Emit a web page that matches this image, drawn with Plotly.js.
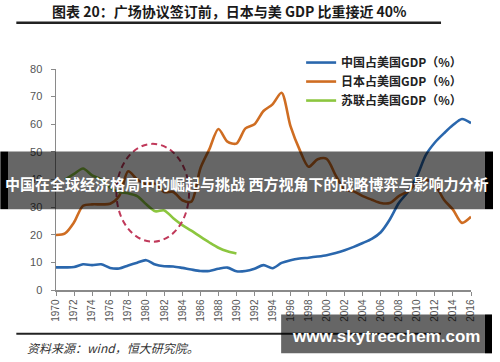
<!DOCTYPE html>
<html>
<head>
<meta charset="utf-8">
<script src="https://cdn.plot.ly/plotly-3.0.1.min.js"></script>
<style>html,body{margin:0;padding:0;background:#fff;}#chart{width:500px;height:362px;}</style>
</head>
<body>
<div id="chart"></div>
<script>
var years = [1970,1971,1972,1973,1974,1975,1976,1977,1978,1979,1980,1981,1982,1983,1984,1985,1986,1987,1988,1989,1990,1991,1992,1993,1994,1995,1996,1997,1998,1999,2000,2001,2002,2003,2004,2005,2006,2007,2008,2009,2010,2011,2012,2013,2014,2015,2016];
var chinaPct = [8.2,8.2,8.3,9.3,9.0,9.3,8.0,7.8,8.9,9.9,10.8,9.2,8.6,8.5,8.0,7.4,6.9,6.9,7.7,8.1,6.8,6.9,7.7,9.0,7.9,9.8,10.8,11.4,11.7,12.1,12.6,13.4,14.4,15.6,17.0,18.5,20.9,25.5,31.5,35.5,41.1,48.9,53.4,56.7,59.7,61.9,60.4];
var japanPct = [19.9,20.5,24.5,30.5,31,31,31.2,34,43,40,38.3,38.5,35.5,35.5,32.5,32,44,51,58.3,53.7,53,58.5,60,64.8,67.2,71.4,59.2,50.8,44.6,47.3,47.5,41.5,36.3,35.7,34,32.7,31.5,31.5,34,35.7,38.7,39.9,38.1,32.7,29.1,24.3,26.5];
var ussrYears = [1971,1972,1973,1974,1975,1976,1977,1978,1979,1980,1981,1982,1983,1984,1985,1986,1987,1988,1989,1990];
var ussrPct = [40,42,44,41.5,40,37,35.5,35,34,31,28.5,28.8,26,23.5,21.5,19.3,17.2,15.3,14,13.2];
var seriesNames = ['中国占美国GDP（%）','日本占美国GDP（%）','苏联占美国GDP（%）'];
var xTicks = [1970,1972,1974,1976,1978,1980,1982,1984,1986,1988,1990,1992,1994,1996,1998,2000,2002,2004,2006,2008,2010,2012,2014,2016];
var yTicks = [0,10,20,30,40,50,60,70,80];
var titleText = '图表 20：广场协议签订前，日本与美 GDP 比重接近 40%';
var sourceText = '资料来源：wind，恒大研究院。';
var bandText = '中国在全球经济格局中的崛起与挑战 西方视角下的战略博弈与影响力分析';
var siteText = 'www.skytreechem.com';

var W = 500, H = 362;
var L = 55.7, R = 29, T = 69, B = 71.5;
var pw = W - L - R, ph = H - T - B;
function px(x){ return (x - L) / pw; }
function py(y){ return (H - B - y) / ph; }

var cjk = '"Noto Sans CJK SC", "Noto Sans", sans-serif';
var traces = [
  {x: years, y: chinaPct, name: seriesNames[0], type: 'scatter', mode: 'lines',
   line: {color: '#2a67ad', width: 2.6, shape: 'spline', smoothing: 0.8}},
  {x: years, y: japanPct, name: seriesNames[1], type: 'scatter', mode: 'lines',
   line: {color: '#cf6d22', width: 2.6, shape: 'spline', smoothing: 0.8}},
  {x: ussrYears, y: ussrPct, name: seriesNames[2], type: 'scatter', mode: 'lines',
   line: {color: '#8cc63f', width: 2.6, shape: 'spline', smoothing: 0.8}}
];

var layout = {
  width: W, height: H,
  margin: {l: L, r: R, t: T, b: B, pad: 0},
  paper_bgcolor: '#fff', plot_bgcolor: '#fff',
  showlegend: true,
  legend: {x: px(301), xanchor: 'left', y: py(48), yanchor: 'top',
    bgcolor: 'rgba(0,0,0,0)', borderwidth: 0, tracegroupgap: 0,
    font: {family: cjk, size: 12, color: '#222', weight: 'bold'}},
  xaxis: {range: [1970, 2016], tickvals: xTicks, ticktext: xTicks.map(String), tickangle: -90,
    showgrid: false, zeroline: false, showline: true, linecolor: '#8a8a8a', linewidth: 1.5,
    ticks: 'outside', ticklen: 4, tickcolor: '#8a8a8a', tickwidth: 1,
    tickfont: {family: 'Liberation Sans, Arial, sans-serif', size: 10, color: '#555'}},
  yaxis: {range: [0, 80], tickvals: yTicks, showgrid: false, zeroline: false,
    showline: true, linecolor: '#8a8a8a', linewidth: 1.5,
    ticks: 'outside', ticklen: 4, tickcolor: '#8a8a8a', tickwidth: 1, ticklabelstandoff: 6,
    tickfont: {family: 'Liberation Sans, Arial, sans-serif', size: 11, color: '#555'}},
  shapes: [
    {type: 'circle', xref: 'x', yref: 'y', x0: 1976.7, x1: 1984.75, y0: 17.5, y1: 52.9,
     line: {color: '#c0395a', width: 2, dash: '6px,4px'}},
    {type: 'line', xref: 'paper', yref: 'paper', x0: px(16), x1: px(441), y0: py(22.7), y1: py(22.7),
     line: {color: '#222', width: 2.5}},
    {type: 'line', xref: 'paper', yref: 'paper', x0: px(16), x1: px(441), y0: py(334.3), y1: py(334.3),
     line: {color: '#222', width: 2}},
    {type: 'rect', xref: 'paper', yref: 'paper', layer: 'above', x0: px(8), x1: px(485), y0: py(209.5), y1: py(151.7),
     fillcolor: 'rgba(0,0,0,0.6)', line: {width: 0}},
    {type: 'rect', xref: 'paper', yref: 'paper', layer: 'above', x0: px(0), x1: px(8), y0: py(209.5), y1: py(151.7),
     fillcolor: '#000', line: {width: 0}},
    {type: 'rect', xref: 'paper', yref: 'paper', layer: 'above', x0: px(485), x1: px(493), y0: py(209.5), y1: py(151.7),
     fillcolor: '#000', line: {width: 0}},
    {type: 'rect', xref: 'paper', yref: 'paper', layer: 'above', x0: px(281), x1: px(485), y0: py(354), y1: py(315),
     fillcolor: 'rgba(0,0,0,0.6)', line: {width: 0}},
    {type: 'rect', xref: 'paper', yref: 'paper', layer: 'above', x0: px(485), x1: px(492), y0: py(354), y1: py(315),
     fillcolor: '#000', line: {width: 0}}
  ],
  annotations: [
    {text: titleText, xref: 'paper', yref: 'paper', x: px(229.5), y: py(11), xanchor: 'center', yanchor: 'middle',
     showarrow: false, font: {family: cjk, size: 14, color: '#1a1a1a', weight: 'bold'}},
    {text: sourceText, xref: 'paper', yref: 'paper', x: px(25), y: py(347.7), xanchor: 'left', yanchor: 'middle',
     showarrow: false, font: {family: cjk, size: 12, color: '#333', style: 'italic'}},
    {text: bandText, xref: 'paper', yref: 'paper', x: px(246.5), y: py(184), xanchor: 'center', yanchor: 'middle',
     showarrow: false, font: {family: cjk, size: 15, color: '#fff', weight: 'bold'}},
    {text: siteText, xref: 'paper', yref: 'paper', x: px(386), y: py(337), xanchor: 'center', yanchor: 'middle',
     showarrow: false, font: {family: 'Liberation Sans, Arial, sans-serif', size: 17, color: '#fff', weight: 'bold'}}
  ]
};

Plotly.newPlot('chart', traces, layout, {displayModeBar: false, staticPlot: true});
</script>
</body>
</html>
